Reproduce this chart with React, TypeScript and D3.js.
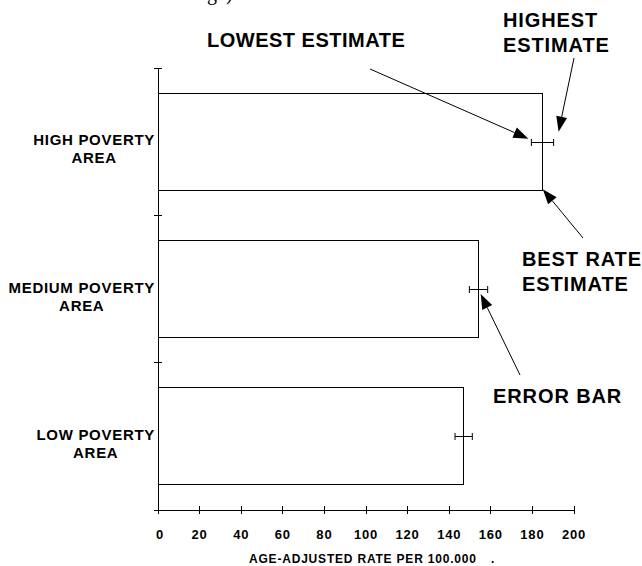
import React from "react";
import * as d3 from "d3";

const categories = ["HIGH POVERTY|AREA", "MEDIUM POVERTY|AREA", "LOW POVERTY|AREA"];
const bestRates = [185, 154, 147];
const lowEstimates = [179.5, 149.7, 142.8];
const highEstimates = [190.2, 158.5, 151.1];
const xTicks = [0, 20, 40, 60, 80, 100, 120, 140, 160, 180, 200];
const xTitle = "AGE-ADJUSTED RATE PER 100.000";

const W = 642;
const H = 566;
const FONT = "'Liberation Sans', Arial, Helvetica, sans-serif";

function measure(text: string, font: string, ls: number) {
  if (typeof document === "undefined") return text.length * 8;
  const c = document.createElement("canvas");
  const ctx = c.getContext("2d");
  if (!ctx) return text.length * 8;
  ctx.font = font;
  return ctx.measureText(text).width + ls * text.length;
}

function Arrow({ x1, y1, x2, y2 }: { x1: number; y1: number; x2: number; y2: number }) {
  const ang = Math.atan2(y2 - y1, x2 - x1);
  const len = 15;
  const half = 5.5;
  const bx = x2 - len * Math.cos(ang);
  const by = y2 - len * Math.sin(ang);
  const px = -Math.sin(ang) * half;
  const py = Math.cos(ang) * half;
  const pts = [
    [x2, y2],
    [bx + px, by + py],
    [bx - px, by - py],
  ];
  return (
    <g>
      <line x1={x1} y1={y1} x2={bx} y2={by} stroke="#000" strokeWidth={1} />
      <polygon points={pts.map((p) => p.join(",")).join(" ")} fill="#000" />
    </g>
  );
}

export default function App() {
  const x = d3.scaleLinear().domain([0, 200]).range([158, 574]);
  const y = d3
    .scaleBand<string>()
    .domain(categories)
    .range([68, 510])
    .paddingInner(0.34)
    .paddingOuter(0.17);
  const step = y.step();
  const bw = y.bandwidth();
  const yCenter = (c: string) => (y(c) as number) + bw / 2;
  const bandEdges = [68, 68 + step, 68 + 2 * step, 510];

  const labelFont = `bold 15px ${FONT}`;
  const labelLS = 0.7;
  const annFont = { fontFamily: FONT, fontWeight: 700, fontSize: 20, letterSpacing: 0.5 } as const;
  const annFontWide = { ...annFont, letterSpacing: 0.9 } as const;

  const c0 = categories[0];
  const c1 = categories[1];
  const lowTip = { x: x(lowEstimates[0]) - 3, y: yCenter(c0) - 3 };
  const highTip = { x: x(highEstimates[0]) + 5, y: yCenter(c0) - 10 };
  const bestTip = { x: x(bestRates[0]), y: (y(c0) as number) + bw - 1 };
  const errTip = { x: x(highEstimates[1]) - 7, y: yCenter(c1) + 5 };

  return (
    <svg
      width={W}
      height={H}
      viewBox={`0 0 ${W} ${H}`}
      style={{ position: "absolute", left: 0, top: 0, background: "#fff" }}
    >
      <rect x={0} y={0} width={W} height={H} fill="#fff" />
      <text x={207} y={0} fontFamily="'Liberation Serif', 'Times New Roman', serif" fontSize={20}>
        ge)
      </text>

      {categories.map((c, i) => (
        <rect
          key={c}
          x={x(0)}
          y={y(c) as number}
          width={x(bestRates[i]) - x(0)}
          height={bw}
          fill="#fff"
          stroke="#000"
          strokeWidth={1}
          shapeRendering="crispEdges"
        />
      ))}

      {categories.map((c, i) => {
        const cy = Math.round(yCenter(c)) + 0.5;
        const xl = x(lowEstimates[i]);
        const xh = x(highEstimates[i]);
        return (
          <g key={"e" + c} stroke="#000" strokeWidth={1}>
            <line x1={xl} x2={xh} y1={cy} y2={cy} />
            <line x1={xl} x2={xl} y1={cy - 3.5} y2={cy + 3.5} />
            <line x1={xh} x2={xh} y1={cy - 3.5} y2={cy + 3.5} />
          </g>
        );
      })}

      <g stroke="#000" strokeWidth={1} shapeRendering="crispEdges">
        <line x1={x(0)} x2={x(0)} y1={68} y2={514} />
        {bandEdges.map((v, i) => (
          <line key={i} x1={x(0) - 4} x2={x(0) + 4} y1={v} y2={v} />
        ))}
      </g>

      <g stroke="#000" strokeWidth={1} shapeRendering="crispEdges">
        <line x1={x(0) - 4} x2={x(200)} y1={510} y2={510} />
        {xTicks.map((t) => (
          <line key={t} x1={x(t)} x2={x(t)} y1={506} y2={514} />
        ))}
      </g>
      {xTicks.map((t) => (
        <text
          key={"t" + t}
          x={x(t) + (t === 0 ? 2 : 0)}
          y={539}
          textAnchor="middle"
          fontFamily={FONT}
          fontWeight={700}
          fontSize={13}
          letterSpacing={0.8}
        >
          {d3.format("d")(t)}
        </text>
      ))}
      <text x={249} y={563} fontFamily={FONT} fontWeight={700} fontSize={12} letterSpacing={0.8}>
        {xTitle}
      </text>
      <text x={491} y={563} fontFamily={FONT} fontWeight={700} fontSize={12}>
        .
      </text>

      {categories.map((c) => {
        const [l1, l2] = c.split("|");
        const w1 = measure(l1, labelFont, labelLS);
        const right = 155;
        const cx = right - w1 / 2;
        const cy = yCenter(c);
        return (
          <g key={"l" + c} fontFamily={FONT} fontWeight={700} fontSize={15} letterSpacing={labelLS}>
            <text x={right} y={cy + 3.5} textAnchor="end">
              {l1}
            </text>
            <text x={cx} y={cy + 21.5} textAnchor="middle">
              {l2}
            </text>
          </g>
        );
      })}

      <text x={207} y={47} {...annFont}>
        LOWEST ESTIMATE
      </text>
      <text x={503} y={27} {...annFontWide}>
        HIGHEST
      </text>
      <text x={503} y={52} {...annFontWide}>
        ESTIMATE
      </text>
      <text x={522} y={266} {...annFontWide}>
        BEST RATE
      </text>
      <text x={522} y={291} {...annFontWide}>
        ESTIMATE
      </text>
      <text x={493} y={403} {...annFontWide}>
        ERROR BAR
      </text>

      <Arrow x1={370} y1={69} x2={lowTip.x} y2={lowTip.y} />
      <Arrow x1={574} y1={58} x2={highTip.x} y2={highTip.y} />
      <Arrow x1={583} y1={238} x2={bestTip.x} y2={bestTip.y} />
      <Arrow x1={520} y1={375} x2={errTip.x} y2={errTip.y} />
    </svg>
  );
}
